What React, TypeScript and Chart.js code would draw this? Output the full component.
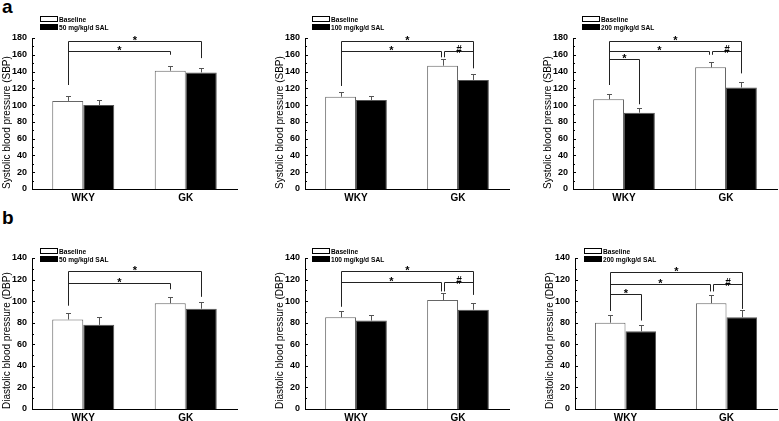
import { useEffect, useRef } from "react";
import { Chart, registerables } from "chart.js";

Chart.register(...registerables);

// ---------- data ----------
const groups = ["WKY", "GK"];
const baselineLabel = "Baseline";
const doseLabels = ["50 mg/kg/d SAL", "100 mg/kg/d SAL", "200 mg/kg/d SAL"];
const sbpTitle = "Systolic blood pressure (SBP)";
const dbpTitle = "Diastolic blood pressure (DBP)";
const sbpMax = 180;
const dbpMax = 140;
const tickStep = 20;

// Systolic (panel a)
const sbp50Baseline = [105, 141];
const sbp50BaselineErr = [6, 6];
const sbp50Sal = [100, 139];
const sbp50SalErr = [6, 5];

const sbp100Baseline = [110, 147];
const sbp100BaselineErr = [6, 8];
const sbp100Sal = [106, 130];
const sbp100SalErr = [5, 7];

const sbp200Baseline = [107, 145];
const sbp200BaselineErr = [6, 6];
const sbp200Sal = [91, 121];
const sbp200SalErr = [5, 7];

// Diastolic (panel b)
const dbp50Baseline = [83, 98];
const dbp50BaselineErr = [6, 6];
const dbp50Sal = [78, 93];
const dbp50SalErr = [7, 6];

const dbp100Baseline = [85, 101];
const dbp100BaselineErr = [6, 7];
const dbp100Sal = [82, 92];
const dbp100SalErr = [5, 6];

const dbp200Baseline = [80, 98];
const dbp200BaselineErr = [7, 8];
const dbp200Sal = [72, 85];
const dbp200SalErr = [6, 7];

// significance brackets: from/to = [datasetIndex, categoryIndex]
const sbp50Brackets = [
  { from: [0, 0], to: [1, 1], y: 176, fromLeg: 124, toLeg: 156, label: "*" },
  { from: [0, 0], to: [0, 1], y: 165, fromLeg: 124, toLeg: 160, label: "*" },
];
const sbp100Brackets = [
  { from: [0, 0], to: [1, 1], y: 177, fromLeg: 123, toLeg: 144, label: "*" },
  { from: [0, 0], to: [0, 1], y: 165, fromLeg: 123, toLeg: 157, label: "*", toOff: -1.5 },
  { from: [0, 1], to: [1, 1], y: 165, fromLeg: 157, toLeg: 144, label: "#", fromOff: 1.5 },
];
const sbp200Brackets = [
  { from: [0, 0], to: [1, 1], y: 176, fromLeg: 124, toLeg: 138, label: "*" },
  { from: [0, 0], to: [0, 1], y: 165, fromLeg: 124, toLeg: 160, label: "*", toOff: -1.5 },
  { from: [0, 1], to: [1, 1], y: 165, fromLeg: 160, toLeg: 138, label: "#", fromOff: 1.5 },
  { from: [0, 0], to: [1, 0], y: 155, fromLeg: 124, toLeg: 101, label: "*" },
];
const dbp50Brackets = [
  { from: [0, 0], to: [1, 1], y: 128, fromLeg: 96, toLeg: 104, label: "*" },
  { from: [0, 0], to: [0, 1], y: 117, fromLeg: 96, toLeg: 111, label: "*" },
];
const dbp100Brackets = [
  { from: [0, 0], to: [1, 1], y: 128, fromLeg: 95, toLeg: 106, label: "*" },
  { from: [0, 0], to: [0, 1], y: 118, fromLeg: 95, toLeg: 109, label: "*", toOff: -1.5 },
  { from: [0, 1], to: [1, 1], y: 118, fromLeg: 109, toLeg: 106, label: "#", fromOff: 1.5 },
];
const dbp200Brackets = [
  { from: [0, 0], to: [1, 1], y: 127, fromLeg: 91, toLeg: 93, label: "*" },
  { from: [0, 0], to: [0, 1], y: 116, fromLeg: 91, toLeg: 109, label: "*", toOff: -1.5 },
  { from: [0, 1], to: [1, 1], y: 116, fromLeg: 109, toLeg: 93, label: "#", fromOff: 1.5 },
  { from: [0, 0], to: [1, 0], y: 106.5, fromLeg: 91, toLeg: 82, label: "*" },
];

// ---------- styling ----------
const FONT = "'Liberation Sans', Arial, Helvetica, sans-serif";

const decorPlugin = {
  id: "decor",
  afterDatasetsDraw(chart: any, _args: any, opts: any) {
    const ctx = chart.ctx;
    const ys = chart.scales.y;
    ctx.save();
    // error bars
    chart.data.datasets.forEach((ds: any, di: number) => {
      const meta = chart.getDatasetMeta(di);
      meta.data.forEach((bar: any, i: number) => {
        const top = Math.round(ys.getPixelForValue(ds.data[i] + ds.errors[i])) + 0.5;
        const x = Math.round(bar.x) + 0.5;
        ctx.strokeStyle = "#555";
        ctx.lineWidth = 1;
        ctx.beginPath();
        ctx.moveTo(x, bar.y);
        ctx.lineTo(x, top);
        ctx.moveTo(x - 2.5, top);
        ctx.lineTo(x + 2.5, top);
        ctx.stroke();
      });
    });
    // brackets
    (opts.brackets || []).forEach((b: any) => {
      const x1 = Math.round(chart.getDatasetMeta(b.from[0]).data[b.from[1]].x + (b.fromOff || 0)) + 0.5;
      const x2 = Math.round(chart.getDatasetMeta(b.to[0]).data[b.to[1]].x + (b.toOff || 0)) + 0.5;
      const yy = Math.round(ys.getPixelForValue(b.y)) + 0.5;
      ctx.strokeStyle = "#222";
      ctx.lineWidth = 1;
      ctx.beginPath();
      ctx.moveTo(x1, ys.getPixelForValue(b.fromLeg));
      ctx.lineTo(x1, yy);
      ctx.lineTo(x2, yy);
      ctx.lineTo(x2, ys.getPixelForValue(b.toLeg));
      ctx.stroke();
      ctx.fillStyle = "#000";
      ctx.textAlign = "center";
      ctx.textBaseline = "alphabetic";
      if (b.label === "*") {
        ctx.font = `bold 11px ${FONT}`;
        ctx.fillText(b.label, (x1 + x2) / 2, yy + 2.5);
      } else {
        ctx.font = `bold 10px ${FONT}`;
        ctx.fillText(b.label, (x1 + x2) / 2, yy + 1);
      }
    });
    ctx.restore();
  },
  afterDraw(chart: any, _args: any, opts: any) {
    const ctx = chart.ctx;
    const ys = chart.scales.y;
    const left = chart.chartArea.left;
    ctx.save();
    ctx.strokeStyle = "#000";
    ctx.lineWidth = 1;
    ctx.beginPath();
    for (let v = 0; v <= ys.max; v += tickStep / 2) {
      const py = Math.round(ys.getPixelForValue(v)) + 0.5;
      const len = v % tickStep === 0 ? 3 : 2;
      ctx.moveTo(left, py);
      ctx.lineTo(left + len, py);
    }
    ctx.stroke();
    // legend
    const lx = left + opts.legendDx;
    const ly = chart.chartArea.top + opts.legendDy;
    chart.data.datasets.forEach((ds: any, i: number) => {
      const y0 = ly + i * 8;
      ctx.fillStyle = ds.backgroundColor;
      ctx.fillRect(lx, y0, 18, 6);
      ctx.strokeStyle = "#000";
      ctx.strokeRect(lx + 0.5, y0 + 0.5, 17, 5);
      ctx.save();
      ctx.translate(lx + 19, y0 + 3.5);
      ctx.scale(0.88, 1);
      ctx.font = `bold 7.5px ${FONT}`;
      ctx.textBaseline = "middle";
      ctx.textAlign = "left";
      ctx.fillStyle = "#000";
      ctx.fillText(ds.label, 0, 0);
      ctx.restore();
    });
    ctx.restore();
  },
};

type PanelProps = {
  left: number;
  top: number;
  width: number;
  height: number;
  padLeft: number;
  padRight: number;
  padTop: number;
  xHeight: number;
  baseline: number[];
  baselineErr: number[];
  sal: number[];
  salErr: number[];
  salLabel: string;
  title: string;
  max: number;
  brackets: any[];
  legendDx: number;
  legendDy: number;
};

function Panel(p: PanelProps) {
  const ref = useRef<HTMLCanvasElement | null>(null);
  useEffect(() => {
    if (!ref.current) return;
    const chart = new Chart(ref.current, {
      type: "bar",
      data: {
        labels: groups,
        datasets: [
          {
            label: baselineLabel,
            data: p.baseline,
            errors: p.baselineErr,
            backgroundColor: "#ffffff",
            borderColor: "#666",
            borderWidth: 1,
          } as any,
          {
            label: p.salLabel,
            data: p.sal,
            errors: p.salErr,
            backgroundColor: "#000000",
            borderColor: "#555",
            borderWidth: 1,
          } as any,
        ],
      },
      options: {
        responsive: false,
        animation: false,
        devicePixelRatio: 1,
        layout: { padding: { left: p.padLeft, right: p.padRight, top: p.padTop, bottom: 0 } },
        datasets: { bar: { categoryPercentage: 0.605, barPercentage: 1 } },
        plugins: {
          legend: { display: false },
          tooltip: { enabled: false },
          decor: { brackets: p.brackets, legendDx: p.legendDx, legendDy: p.legendDy },
        } as any,
        scales: {
          x: {
            grid: { display: false, drawTicks: false },
            border: { display: true, color: "#000", width: 1 },
            ticks: { color: "#000", font: { family: FONT, size: 10, weight: "bold" }, padding: 3 },
            afterFit: (s: any) => {
              s.height = p.xHeight;
            },
          },
          y: {
            min: 0,
            max: p.max,
            grid: { display: false, drawTicks: false },
            border: { display: true, color: "#000", width: 1 },
            ticks: {
              stepSize: tickStep,
              color: "#000",
              font: { family: FONT, size: 9, weight: "bold" },
              padding: 5,
            },
            title: {
              display: true,
              text: p.title,
              align: "start",
              color: "#000",
              font: { family: FONT, size: 10 },
              padding: { top: 1, bottom: 0 },
            },
            afterFit: (s: any) => {
              s.width = 32;
            },
          },
        },
      },
      plugins: [decorPlugin],
    });
    return () => chart.destroy();
  }, []);
  return (
    <canvas
      ref={ref}
      width={p.width}
      height={p.height}
      style={{ position: "absolute", left: p.left, top: p.top, width: p.width, height: p.height }}
    />
  );
}

export default function App() {
  const topRow = { top: 0, height: 210, padTop: 38, xHeight: 21, legendDy: -22, max: sbpMax, title: sbpTitle };
  const botRow = { top: 210, height: 211, padTop: 48, xHeight: 12, legendDy: -10, max: dbpMax, title: dbpTitle };
  const cols = [
    { left: 0, width: 260, padLeft: 0, padRight: 23, legendDx: 8 },
    { left: 260, width: 260, padLeft: 13, padRight: 11, legendDx: 7 },
    { left: 519, width: 260, padLeft: 22, padRight: 2, legendDx: 9 },
  ];
  return (
    <div style={{ position: "absolute", left: 0, top: 0, width: 779, height: 421, background: "#fff", overflow: "hidden" }}>
      <div style={{ position: "absolute", left: 2, top: -4, font: `bold 19px ${FONT}` }}>a</div>
      <div style={{ position: "absolute", left: 2, top: 207, font: `bold 19px ${FONT}` }}>b</div>
      <Panel {...topRow} {...cols[0]} baseline={sbp50Baseline} baselineErr={sbp50BaselineErr} sal={sbp50Sal} salErr={sbp50SalErr} salLabel={doseLabels[0]} brackets={sbp50Brackets} />
      <Panel {...topRow} {...cols[1]} baseline={sbp100Baseline} baselineErr={sbp100BaselineErr} sal={sbp100Sal} salErr={sbp100SalErr} salLabel={doseLabels[1]} brackets={sbp100Brackets} />
      <Panel {...topRow} {...cols[2]} baseline={sbp200Baseline} baselineErr={sbp200BaselineErr} sal={sbp200Sal} salErr={sbp200SalErr} salLabel={doseLabels[2]} brackets={sbp200Brackets} />
      <Panel {...botRow} {...cols[0]} baseline={dbp50Baseline} baselineErr={dbp50BaselineErr} sal={dbp50Sal} salErr={dbp50SalErr} salLabel={doseLabels[0]} brackets={dbp50Brackets} />
      <Panel {...botRow} {...cols[1]} baseline={dbp100Baseline} baselineErr={dbp100BaselineErr} sal={dbp100Sal} salErr={dbp100SalErr} salLabel={doseLabels[1]} brackets={dbp100Brackets} />
      <Panel {...botRow} {...cols[2]} padLeft={24} baseline={dbp200Baseline} baselineErr={dbp200BaselineErr} sal={dbp200Sal} salErr={dbp200SalErr} salLabel={doseLabels[2]} brackets={dbp200Brackets} />
    </div>
  );
}
